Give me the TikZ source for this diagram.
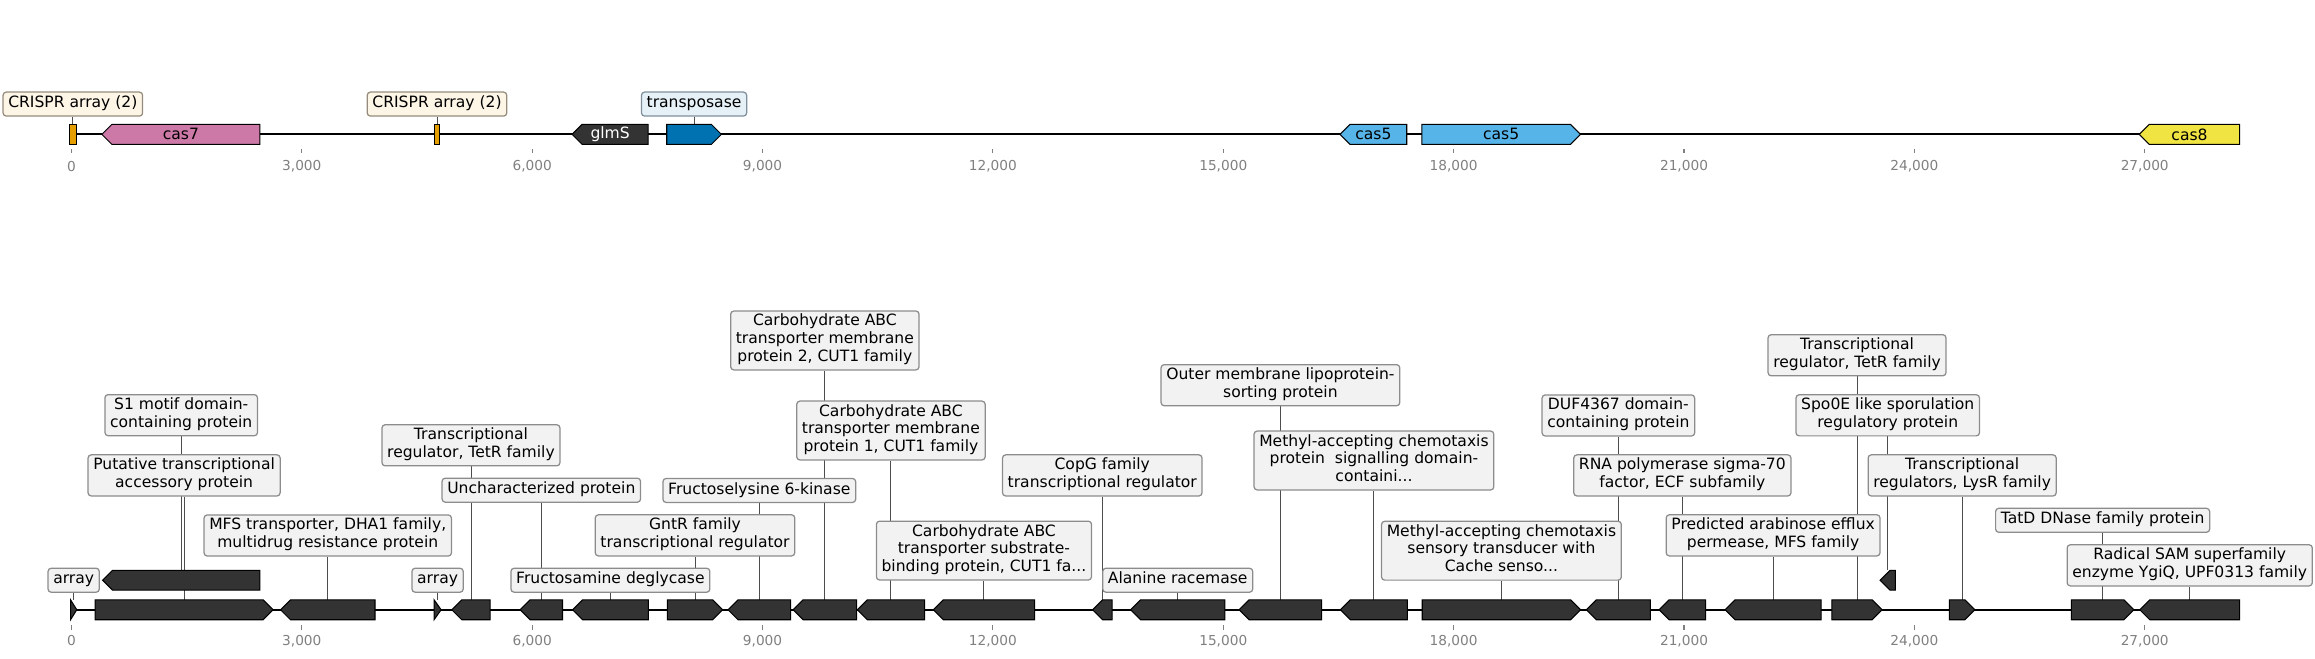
\documentclass[tikz,border=0pt]{standalone}
\usepackage{fontspec}
\setmainfont{DejaVu Sans}
\usetikzlibrary{backgrounds}

\definecolor{crisprcol}{HTML}{E69F00}
\definecolor{cas7col}{HTML}{CC79A7}
\definecolor{darkgene}{HTML}{333333}
\definecolor{tnpcol}{HTML}{0072B2}
\definecolor{cas5col}{HTML}{56B4E9}
\definecolor{cas8col}{HTML}{F0E442}
\definecolor{boxfill}{HTML}{F2F2F2}
\definecolor{boxedge}{HTML}{8C8C8C}
\definecolor{crboxfill}{HTML}{FDF5E6}
\definecolor{crboxedge}{HTML}{958C7C}
\definecolor{tnpboxfill}{HTML}{E6F1F7}
\definecolor{tnpboxedge}{HTML}{7E8F9B}
\definecolor{connline}{HTML}{4D4D4D}
\definecolor{axisgray}{HTML}{808080}

\newcommand{\lblfont}{\fontsize{7.5pt}{8.54pt}\selectfont}
\newcommand{\tickfont}{\fontsize{6.6pt}{7.8pt}\selectfont}

% gene arrows: name, start, end, y, colour (all in px)
\newcommand{\geneR}[5]{%
  \pgfmathsetmacro{\headlen}{min(6.75,#3-#2)}%
  \draw[gene, fill=#5] (#2,#4-6.75) -- (#3-\headlen,#4-6.75) -- (#3,#4) -- (#3-\headlen,#4+6.75) -- (#2,#4+6.75) -- cycle;
  \coordinate (#1) at ({(#2+#3)/2},#4);
  \coordinate (#1-top) at ({(#2+#3)/2},#4-6.75);}
\newcommand{\geneL}[5]{%
  \pgfmathsetmacro{\headlen}{min(6.75,#3-#2)}%
  \draw[gene, fill=#5] (#2,#4) -- (#2+\headlen,#4-6.75) -- (#3,#4-6.75) -- (#3,#4+6.75) -- (#2+\headlen,#4+6.75) -- cycle;
  \coordinate (#1) at ({(#2+#3)/2},#4);
  \coordinate (#1-top) at ({(#2+#3)/2},#4-6.75);}
\newcommand{\geneN}[5]{%
  \draw[gene, fill=#5] (#2,#4-6.75) rectangle (#3,#4+6.75);
  \coordinate (#1) at ({(#2+#3)/2},#4);
  \coordinate (#1-top) at ({(#2+#3)/2},#4-6.75);}

\begin{document}
\begin{tikzpicture}[
    x=0.25mm, y=-0.25mm,
    gene/.style={draw=black, line width=0.5pt},
    dna/.style={draw=black, line width=0.95pt},
    lbl/.style={rectangle, draw=boxedge, fill=boxfill, rounded corners=1.5pt, line width=0.6pt, inner xsep=2.5pt, inner ysep=1.5pt, align=center, font=\lblfont, execute at begin node=\strut, execute at end node=\strut},
    crlbl/.style={lbl, draw=crboxedge, fill=crboxfill},
    tnplbl/.style={lbl, draw=tnpboxedge, fill=tnpboxfill},
    inl/.style={inner sep=0pt, font=\lblfont},
    conn/.style={draw=connline, line width=0.45pt},
    tickmark/.style={draw=axisgray, line width=0.5pt},
    ticklbl/.style={text=axisgray, font=\tickfont, inner sep=0pt}
]
\useasboundingbox (0,0) rectangle (1568,446);

% axes
\draw[dna] (47.5,91) -- (1517,91);
\draw[dna] (47.5,413) -- (1517,413);
\foreach \k/\t in {0/0, 1/{3,000}, 2/{6,000}, 3/{9,000}, 4/{12,000}, 5/{15,000}, 6/{18,000}, 7/{21,000}, 8/{24,000}, 9/{27,000}} {
  \draw[tickmark] (48.4+156.03*\k,100.8) -- (48.4+156.03*\k,103.6);
  \node[ticklbl] (tt\k) at (48.4+156.03*\k,112.9) {\t};
  \draw[tickmark] (48.4+156.03*\k,423.4) -- (48.4+156.03*\k,426.4);
  \node[ticklbl] (bt\k) at (48.4+156.03*\k,434) {\t};
}

% top track
\geneN{cr1}{47.2}{51.5}{91}{crisprcol}
\geneL{cas7}{69}{176}{91}{cas7col}
\geneN{cr2}{294}{298}{91}{crisprcol}
\geneL{glms}{387.5}{439}{91}{darkgene}
\geneR{tnp}{451.6}{488.6}{91}{tnpcol}
\geneL{casa}{907.6}{952.8}{91}{cas5col}
\geneR{casb}{963}{1070.5}{91}{cas5col}
\geneL{cas8}{1449}{1517}{91}{cas8col}

\node[inl] (n7) at (cas7) {cas7};
\node[inl, text=white] (ng) at (glms) {glmS};
\node[inl] (n5a) at (casa) {cas5};
\node[inl] (n5b) at (casb) {cas5};
\node[inl] (n8) at (cas8) {cas8};

\node[crlbl] (tcr1) at (cr1 |- 0,70.5) {CRISPR array (2)};
\node[crlbl] (tcr2) at (cr2 |- 0,70.5) {CRISPR array (2)};
\node[tnplbl] (ttnp) at (tnp |- 0,70.5) {transposase};

% bottom track
\geneR{g1}{47.8}{52}{413}{darkgene}
\geneL{g2}{69.5}{176}{393}{darkgene}
\geneR{g3}{64.4}{185}{413}{darkgene}
\geneL{g4}{190}{254}{413}{darkgene}
\geneR{g5}{294}{298.8}{413}{darkgene}
\geneL{g6}{306}{332}{413}{darkgene}
\geneL{g7}{352.3}{381}{413}{darkgene}
\geneL{g8}{387.8}{439.1}{413}{darkgene}
\geneR{g9}{452}{489.5}{413}{darkgene}
\geneL{g10}{493.1}{535.5}{413}{darkgene}
\geneL{g11}{537.2}{580.2}{413}{darkgene}
\geneL{g12}{580.7}{626.2}{413}{darkgene}
\geneL{g13}{632.2}{700.7}{413}{darkgene}
\geneL{g14}{740}{753.2}{413}{darkgene}
\geneL{g15}{765.8}{829.6}{413}{darkgene}
\geneL{g16}{839.3}{895.2}{413}{darkgene}
\geneL{g17}{907.9}{953.3}{413}{darkgene}
\geneR{g18}{963.3}{1070.6}{413}{darkgene}
\geneL{g19}{1074.5}{1117.8}{413}{darkgene}
\geneL{g20}{1123.8}{1155.2}{413}{darkgene}
\geneL{g21}{1168.4}{1233.5}{413}{darkgene}
\geneR{g22}{1240.8}{1274.8}{413}{darkgene}
\geneL{g23}{1273.5}{1283.7}{393}{darkgene}
\geneR{g24}{1320.4}{1337.6}{413}{darkgene}
\geneR{g25}{1403}{1445.3}{413}{darkgene}
\geneL{g26}{1449.3}{1517}{413}{darkgene}

\node[lbl] (l1) at (g1 |- 0,393) {array};
\node[lbl] (l2) at (g2 |- 0,281.2) {S1 motif domain-\\containing protein};
\node[lbl] (l3) at (g3 |- 0,322) {Putative transcriptional\\accessory protein};
\node[lbl] (l4) at (g4 |- 0,362.7) {MFS transporter, DHA1 family,\\multidrug resistance protein};
\node[lbl] (l5) at (g5 |- 0,393) {array};
\node[lbl] (l6) at (g6 |- 0,301.6) {Transcriptional\\regulator, TetR family};
\node[lbl] (l7) at (g7 |- 0,332) {Uncharacterized protein};
\node[lbl] (l8) at (g8 |- 0,393) {Fructosamine deglycase};
\node[lbl] (l9) at (g9 |- 0,362.6) {GntR family\\transcriptional regulator};
\node[lbl] (l10) at (g10 |- 0,332.2) {Fructoselysine 6-kinase};
\node[lbl] (l11) at (g11 |- 0,230.6) {Carbohydrate ABC\\transporter membrane\\protein 2, CUT1 family};
\node[lbl] (l12) at (g12 |- 0,291.6) {Carbohydrate ABC\\transporter membrane\\protein 1, CUT1 family};
\node[lbl] (l13) at (g13 |- 0,372.9) {Carbohydrate ABC\\transporter substrate-\\binding protein, CUT1 fa...};
\node[lbl] (l14) at (g14 |- 0,322) {CopG family\\transcriptional regulator};
\node[lbl] (l15) at (g15 |- 0,393) {Alanine racemase};
\node[lbl] (l16) at (g16 |- 0,260.9) {Outer membrane lipoprotein-\\sorting protein};
\node[lbl] (l17) at (g17 |- 0,311.9) {Methyl-accepting chemotaxis\\protein~ signalling domain-\\containi...};
\node[lbl] (l18) at (g18 |- 0,373) {Methyl-accepting chemotaxis\\sensory transducer with\\Cache senso...};
\node[lbl] (l19) at (g19 |- 0,281.4) {DUF4367 domain-\\containing protein};
\node[lbl] (l20) at (g20 |- 0,322) {RNA polymerase sigma-70\\factor, ECF subfamily};
\node[lbl] (l21) at (g21 |- 0,362.6) {Predicted arabinose efflux\\permease, MFS family};
\node[lbl] (l22) at (g22 |- 0,240.6) {Transcriptional\\regulator, TetR family};
\node[lbl] (l23) at (g23 |- 0,281.3) {Spo0E like sporulation\\regulatory protein};
\node[lbl] (l24) at (g24 |- 0,322) {Transcriptional\\regulators, LysR family};
\node[lbl] (l25) at (g25 |- 0,352.4) {TatD DNase family protein};
\node[lbl] (l26) at (g26 |- 0,382.9) {Radical SAM superfamily\\enzyme YgiQ, UPF0313 family};

% connectors behind everything
\begin{pgfonlayer}{background}
\draw[conn] (tcr1.south) -- (cr1-top);
\draw[conn] (tcr2.south) -- (cr2-top);
\draw[conn] (ttnp.south) -- (tnp-top);
\foreach \i in {1,...,26} {
  \draw[conn] (l\i.south) -- (g\i-top);
}
\end{pgfonlayer}

\end{tikzpicture}
\end{document}
